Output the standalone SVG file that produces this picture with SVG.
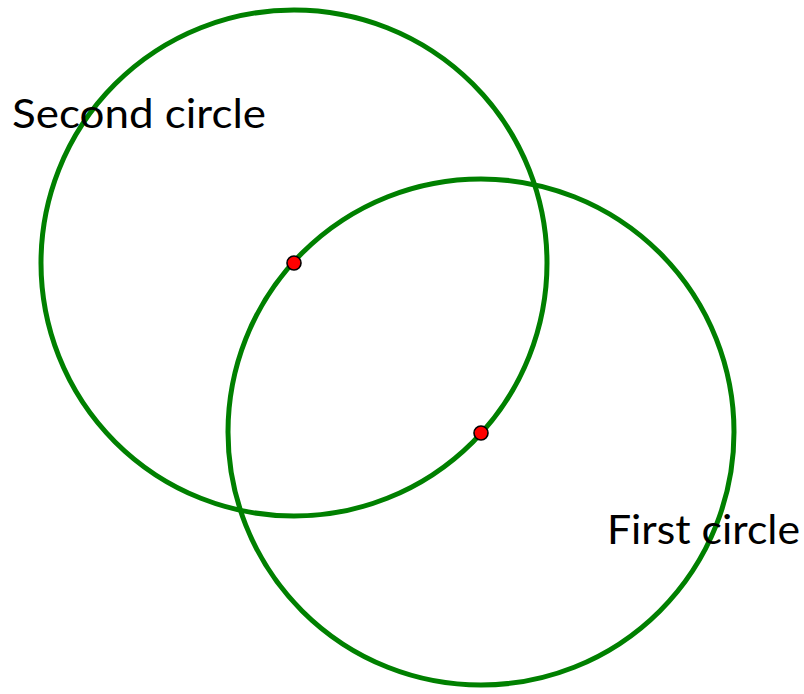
<svg xmlns="http://www.w3.org/2000/svg" width="804" height="694" viewBox="0 0 804 694">
<style>
.c{fill:none;stroke:#008000;stroke-width:5}
.d{fill:#ff0000;stroke:#000;stroke-width:1.6}
.t{font-family:Lato,"Open Sans","Liberation Sans",sans-serif;font-size:40px;fill:#000}
</style>
<rect width="804" height="694" fill="#fff"/>
<g id="second-circle"><circle class="c" cx="294" cy="263" r="253"/></g>
<g id="first-circle"><circle class="c" cx="481" cy="432" r="253"/></g>
<g id="points">
<circle class="d" cx="294" cy="263" r="7"/>
<circle class="d" cx="481" cy="433" r="7"/>
</g>
<g id="labels">
<text class="t" x="12" y="128" textLength="254" lengthAdjust="spacingAndGlyphs">Second circle</text>
<text class="t" x="607" y="544" textLength="193" lengthAdjust="spacingAndGlyphs">First circle</text>
</g>
</svg>
